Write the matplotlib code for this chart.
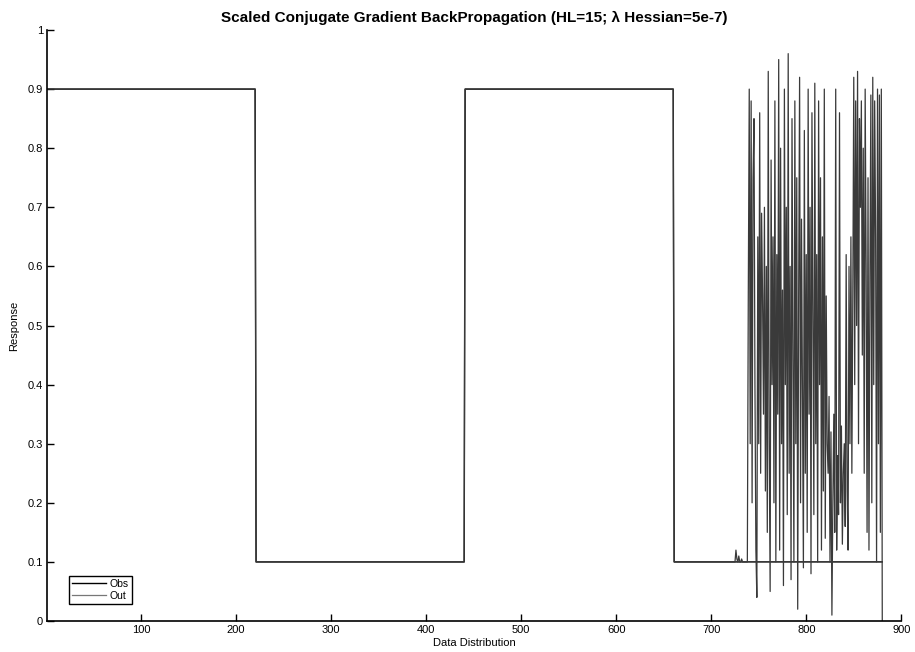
import numpy as np
import matplotlib
matplotlib.use("Agg")
import matplotlib.pyplot as plt

plt.rcParams['font.family'] = ['Liberation Sans', 'DejaVu Sans']

# Observed target: square wave levels over consecutive blocks of samples
obs_levels = [0.9, 0.1, 0.9, 0.1]
obs_block_len = [220, 220, 220, 220]

# Network output: follows the target closely up to sample 724
out_levels = [0.9, 0.1, 0.9, 0.1]
out_block_len = [220, 220, 220, 64]

# Network output from sample 725 to 880
out_tail = [
    0.10, 0.12, 0.105, 0.10, 0.11, 0.10, 0.10, 0.105, 0.10, 0.10, 0.10, 0.10, 0.10,
    0.10, 0.55, 0.90, 0.30, 0.88, 0.20, 0.75, 0.85, 0.40, 0.12,
    0.04, 0.65, 0.30, 0.86, 0.25, 0.69, 0.55, 0.35, 0.70, 0.22,
    0.60, 0.15, 0.93, 0.30, 0.05, 0.78, 0.40, 0.65, 0.20, 0.88,
    0.10, 0.62, 0.35, 0.95, 0.12, 0.80, 0.30, 0.56, 0.06, 0.90,
    0.40, 0.70, 0.18, 0.96, 0.25, 0.60, 0.07, 0.85, 0.45, 0.10,
    0.88, 0.30, 0.75, 0.02, 0.55, 0.92, 0.20, 0.68, 0.40, 0.09,
    0.83, 0.25, 0.62, 0.15, 0.90, 0.35, 0.70, 0.08, 0.86, 0.50,
    0.18, 0.91, 0.30, 0.62, 0.10, 0.88, 0.40, 0.75, 0.12, 0.65,
    0.22, 0.90, 0.14, 0.55, 0.30, 0.25, 0.38,
    0.10, 0.32, 0.01, 0.20, 0.35, 0.15, 0.90, 0.12, 0.28, 0.18,
    0.86, 0.20, 0.33, 0.13, 0.25, 0.30, 0.16, 0.62, 0.22, 0.12,
    0.60, 0.30, 0.65, 0.25, 0.55, 0.92, 0.40, 0.88, 0.50, 0.93,
    0.30, 0.85, 0.70, 0.88, 0.45, 0.80, 0.25, 0.90, 0.60, 0.15,
    0.75, 0.12, 0.58, 0.89, 0.20, 0.92, 0.40, 0.88, 0.65, 0.10,
    0.90, 0.30, 0.89, 0.15, 0.90, 0.00,
]

x_ticks = [100, 200, 300, 400, 500, 600, 700, 800, 900]
y_ticks = [0, 0.1, 0.2, 0.3, 0.4, 0.5, 0.6, 0.7, 0.8, 0.9, 1]

obs = np.repeat(obs_levels, obs_block_len)
out = np.concatenate([np.repeat(out_levels, out_block_len), out_tail])
x_obs = np.arange(1, len(obs) + 1)
x_out = np.arange(1, len(out) + 1)

fig = plt.figure(figsize=(9.15, 6.52), dpi=100)
ax = fig.add_axes([0.0514, 0.0475, 0.9336, 0.9065])

ax.plot(x_obs, obs, color='black', lw=1.0, label='Obs')
ax.plot(x_out, out, color='#3a3a3a', lw=0.9, label='Out')

ax.set_xlim(1, 900)
ax.set_ylim(0, 1)
ax.set_xticks(x_ticks)
ax.set_yticks(y_ticks)
ax.set_yticklabels(['0', '0.1', '0.2', '0.3', '0.4', '0.5', '0.6', '0.7', '0.8', '0.9', '1'])
ax.tick_params(direction='in', length=5, width=1, labelsize=8, pad=3)
for s in ('top', 'right'):
    ax.spines[s].set_visible(False)
for s in ('left', 'bottom'):
    ax.spines[s].set_linewidth(1.2)

ax.set_title('Scaled Conjugate Gradient BackPropagation (HL=15; \u03bb Hessian=5e-7)',
             fontsize=11, fontweight='bold', pad=6)
ax.set_xlabel('Data Distribution', fontsize=8, labelpad=2)
ax.set_ylabel('Response', fontsize=8, labelpad=6)

leg = ax.legend(loc='lower left', bbox_to_anchor=(0.02, 0.02), fontsize=7.5,
                frameon=True, fancybox=False, edgecolor='black', framealpha=1,
                handlelength=3.2, borderpad=0.3, labelspacing=0.2, handletextpad=0.4)
leg.get_frame().set_linewidth(1.0)
leg.get_lines()[1].set_color('#777777')

fig.savefig('out.png', dpi=100)
